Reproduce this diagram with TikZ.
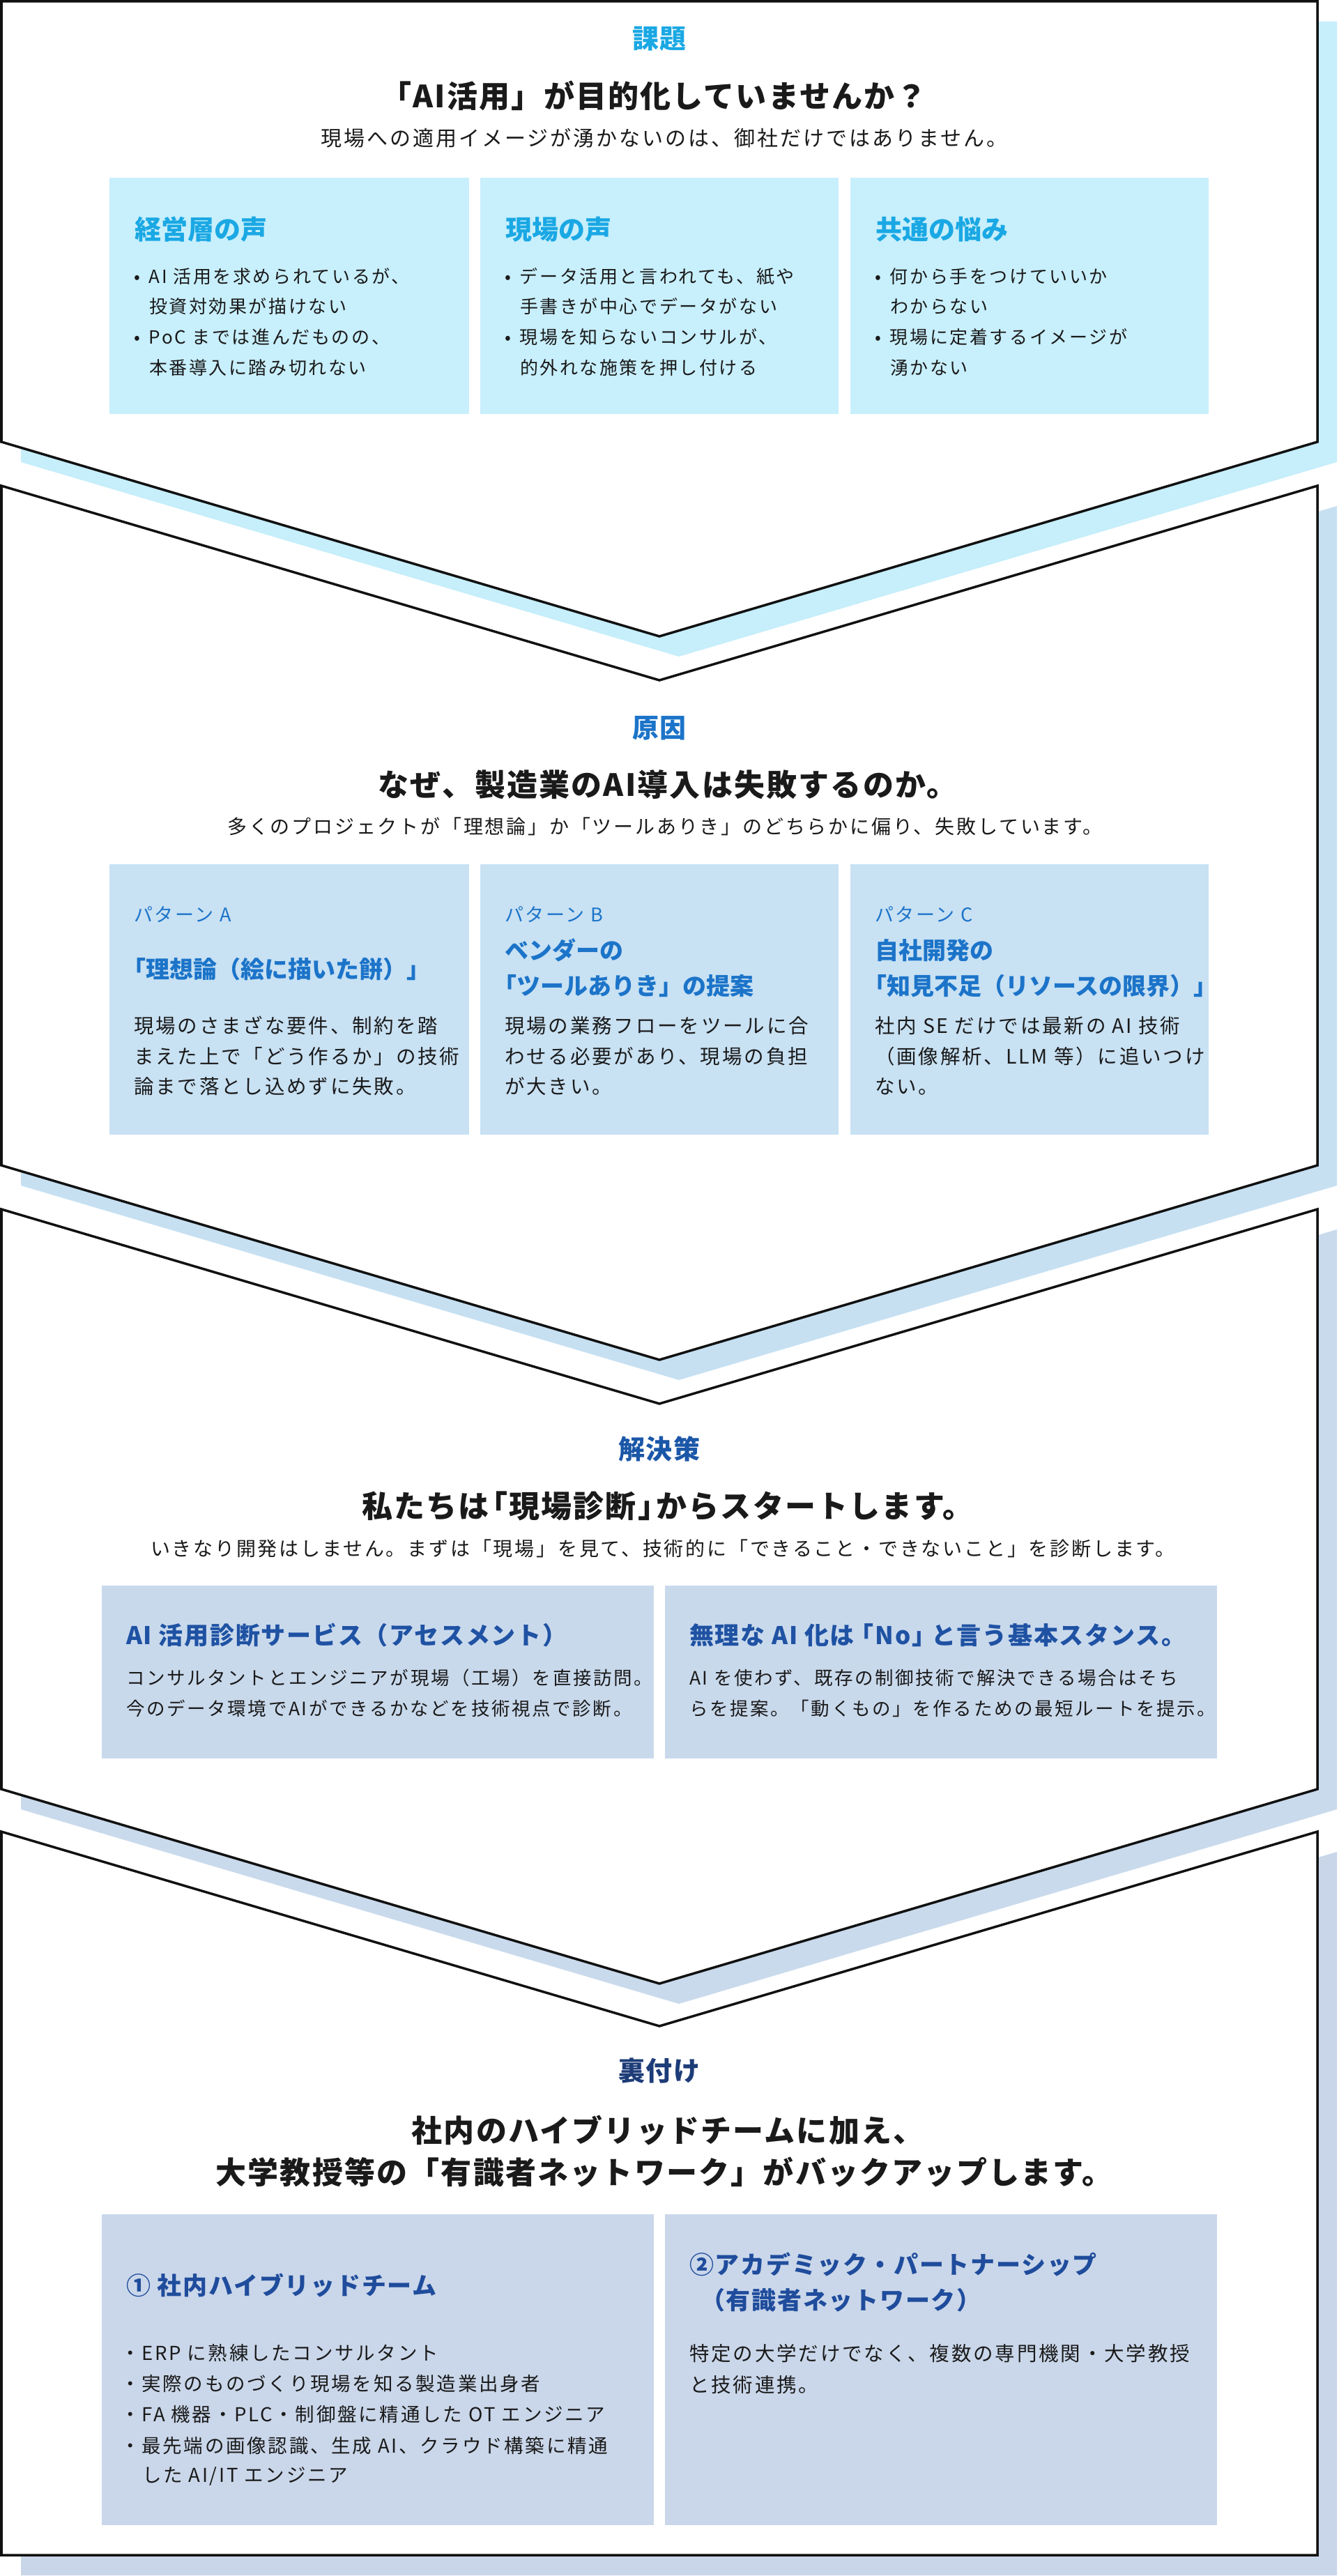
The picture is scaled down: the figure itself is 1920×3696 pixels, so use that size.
\documentclass[tikz,border=0pt]{standalone}
\usepackage{fontspec}
\setmainfont{Noto Sans CJK JP}
\newfontfamily\jpW{Noto Sans CJK JP}[LetterSpace=10]
\newfontfamily\jpM{Noto Sans CJK JP}[LetterSpace=5]
\newfontfamily\jpN{Noto Sans CJK JP}
\definecolor{ink}{HTML}{1A1A1A}
\definecolor{edge}{HTML}{111111}
\definecolor{shA}{HTML}{C6EEFB}
\definecolor{shB}{HTML}{C6E0F2}
\definecolor{shC}{HTML}{C9DAEC}
\definecolor{shD}{HTML}{C9D6E9}
\definecolor{cA}{HTML}{C8EFFC}
\definecolor{cB}{HTML}{C8E1F3}
\definecolor{cC}{HTML}{C9D9EC}
\definecolor{cD}{HTML}{CAD7EA}
\definecolor{labA}{HTML}{1AA8E4}
\definecolor{labB}{HTML}{1C74C9}
\definecolor{labC}{HTML}{1B57A8}
\definecolor{labD}{HTML}{1D3C78}
\definecolor{hdCc}{HTML}{1F52A3}
\definecolor{hdDc}{HTML}{1F4C9C}
\newcommand\bul{\makebox[28pt][l]{\makebox[22pt][c]{•}}}
\newcommand\obr{\kern-0.4em「}
\newcommand\cbr{」\kern-0.4em}
\tikzset{
  txt/.style={inner sep=0pt, outer sep=0pt, text=ink},
  lab/.style={txt, font=\jpM\bfseries\fontsize{38}{38}\selectfont, text height=33pt, text depth=5pt},
  ttl/.style={txt, font=\jpM\bfseries\fontsize{44}{44}\selectfont, text height=38.3pt, text depth=5.7pt},
  subt/.style={txt, font=\jpW\fontsize{28}{28}\selectfont, text height=24.4pt, text depth=3.6pt},
  hdA/.style={txt, anchor=west, text=labA, font=\jpN\bfseries\fontsize{38}{38}\selectfont, text height=33pt, text depth=5pt},
  hdB/.style={txt, anchor=west, text=labB, font=\jpN\bfseries\fontsize{34}{34}\selectfont, text height=29.6pt, text depth=4.4pt},
  hdC/.style={txt, anchor=west, font=\jpM\bfseries\fontsize{35}{35}\selectfont, text height=30.5pt, text depth=4.5pt},
  pat/.style={txt, anchor=west, text=labB, font=\jpW\fontsize{27}{27}\selectfont, text height=23.5pt, text depth=3.5pt},
  bodyA/.style={txt, anchor=west, font=\jpW\fontsize{26}{26}\selectfont, text height=22.6pt, text depth=3.4pt},
  bodyB/.style={txt, anchor=west, font=\jpW\fontsize{28.5}{28.5}\selectfont, text height=24.8pt, text depth=3.7pt},
  bodyC/.style={txt, anchor=west, font=\jpW\fontsize{26.5}{26.5}\selectfont, text height=23pt, text depth=3.5pt},
  bodyD/.style={txt, anchor=west, font=\jpW\fontsize{27.5}{27.5}\selectfont, text height=23.9pt, text depth=3.6pt},
  bodyE/.style={txt, anchor=west, font=\jpW\fontsize{28.5}{28.5}\selectfont, text height=24.8pt, text depth=3.7pt},
  panel/.style={draw=edge, line width=3.5pt, line join=miter, fill=white},
}
\begin{document}
\begin{tikzpicture}[x=1pt,y=-1pt]
\useasboundingbox (0,0) rectangle (1920,3696);
\fill[white] (0,0) rectangle (1920,3696);
% shadows
\fill[shA, shift={(28,29)}] (2,2) -- (1890,2) -- (1890,634) -- (946,913) -- (2,634) -- cycle;
\fill[shB, shift={(28,29)}] (2,697) -- (946,976) -- (1890,697) -- (1890,1672) -- (946,1951) -- (2,1672) -- cycle;
\fill[shC, shift={(28,29)}] (2,1735) -- (946,2014) -- (1890,1735) -- (1890,2567) -- (946,2846) -- (2,2567) -- cycle;
\fill[shD, shift={(28,29)}] (2,2628) -- (946,2907) -- (1890,2628) -- (1890,3666) -- (2,3666) -- cycle;
% panels
\draw[panel] (2,2) -- (1890,2) -- (1890,634) -- (946,913) -- (2,634) -- cycle;
\draw[panel] (2,697) -- (946,976) -- (1890,697) -- (1890,1672) -- (946,1951) -- (2,1672) -- cycle;
\draw[panel] (2,1735) -- (946,2014) -- (1890,1735) -- (1890,2567) -- (946,2846) -- (2,2567) -- cycle;
\draw[panel] (2,2628) -- (946,2907) -- (1890,2628) -- (1890,3666) -- (2,3666) -- cycle;

% ---------- Panel 1 ----------
\node[lab, text=labA] (l1) at (946,56) {課題};
\node[ttl] (t1) at (938,138) {「AI活用」が目的化していませんか？};
\node[subt, font=\jpW\fontsize{30}{30}\selectfont] (s1) at (953,199) {現場への適用イメージが湧かないのは、御社だけではありません。};
\fill[cA] (157,255) rectangle (673,594);
\fill[cA] (689,255) rectangle (1203,594);
\fill[cA] (1220,255) rectangle (1734,594);
\node[hdA] (h1a) at (193,329) {経営層の声};
\node[bodyA] (b1a1) at (186,397) {\bul AI 活用を求められているが、};
\node[bodyA] (b1a2) at (214,440) {投資対効果が描けない};
\node[bodyA] (b1a3) at (186,484) {\bul PoC までは進んだものの、};
\node[bodyA] (b1a4) at (214,528) {本番導入に踏み切れない};
\node[hdA] (h1b) at (725,329) {現場の声};
\node[bodyA] (b1b1) at (718,397) {\bul データ活用と言われても、紙や};
\node[bodyA] (b1b2) at (746,440) {手書きが中心でデータがない};
\node[bodyA] (b1b3) at (718,484) {\bul 現場を知らないコンサルが、};
\node[bodyA] (b1b4) at (746,528) {的外れな施策を押し付ける};
\node[hdA] (h1c) at (1256,329) {共通の悩み};
\node[bodyA] (b1c1) at (1249,397) {\bul 何から手をつけていいか};
\node[bodyA] (b1c2) at (1277,440) {わからない};
\node[bodyA] (b1c3) at (1249,484) {\bul 現場に定着するイメージが};
\node[bodyA] (b1c4) at (1277,528) {湧かない};

% ---------- Panel 2 ----------
\node[lab, text=labB] (l2) at (946,1044) {原因};
\node[ttl] (t2) at (958,1126) {なぜ、製造業のAI導入は失敗するのか。};
\node[subt] (s2) at (954,1186) {多くのプロジェクトが「理想論」か「ツールありき」のどちらかに偏り、失敗しています。};
\fill[cB] (157,1240) rectangle (673,1628);
\fill[cB] (689,1240) rectangle (1203,1628);
\fill[cB] (1220,1240) rectangle (1734,1628);
\node[pat] (p2a) at (192,1312) {パターン A};
\node[pat] (p2b) at (724,1312) {パターン B};
\node[pat] (p2c) at (1255,1312) {パターン C};
\node[hdB] (h2a) at (175,1391) {「理想論（絵に描いた餅）」};
\node[hdB] (h2b1) at (724,1364) {ベンダーの};
\node[hdB] (h2b2) at (707,1415) {「ツールありき」の提案};
\node[hdB] (h2c1) at (1255,1364) {自社開発の};
\node[hdB] (h2c2) at (1238,1415) {「知見不足（リソースの限界）」};
\node[bodyB] (b2a1) at (192,1472) {現場のさまざな要件、制約を踏};
\node[bodyB] (b2a2) at (192,1516) {まえた上で「どう作るか」の技術};
\node[bodyB] (b2a3) at (192,1559) {論まで落とし込めずに失敗。};
\node[bodyB] (b2b1) at (724,1472) {現場の業務フローをツールに合};
\node[bodyB] (b2b2) at (724,1516) {わせる必要があり、現場の負担};
\node[bodyB] (b2b3) at (724,1559) {が大きい。};
\node[bodyB] (b2c1) at (1255,1472) {社内 SE だけでは最新の AI 技術};
\node[bodyB] (b2c2) at (1255,1516) {（画像解析、LLM 等）に追いつけ};
\node[bodyB] (b2c3) at (1255,1559) {ない。};

% ---------- Panel 3 ----------
\node[lab, text=labC] (l3) at (946,2079) {解決策};
\node[ttl] (t3) at (958,2161) {私たちは\obr 現場診断\cbr からスタートします。};
\node[subt] (s3) at (951,2222) {いきなり開発はしません。まずは「現場」を見て、技術的に「できること・できないこと」を診断します。};
\fill[cC] (146,2275) rectangle (938,2523);
\fill[cC] (954,2275) rectangle (1746,2523);
\node[hdC, text=hdCc] (h3a) at (181,2346) {AI 活用診断サービス（アセスメント）};
\node[hdC, text=hdCc] (h3b) at (989,2346) {無理な AI 化は\kern-0.2em「No」\kern-0.2em と言う基本スタンス。};
\node[bodyC] (b3a1) at (181,2408) {コンサルタントとエンジニアが現場（工場）を直接訪問。};
\node[bodyC] (b3a2) at (181,2452) {今のデータ環境でAIができるかなどを技術視点で診断。};
\node[bodyC] (b3b1) at (989,2408) {AI を使わず、既存の制御技術で解決できる場合はそち};
\node[bodyC] (b3b2) at (989,2452) {らを提案。「動くもの」を作るための最短ルートを提示。};

% ---------- Panel 4 ----------
\node[lab, text=labD] (l4) at (946,2971) {裏付け};
\node[ttl] (t4a) at (958,3057) {社内のハイブリッドチームに加え、};
\node[ttl] (t4b) at (953,3117) {大学教授等の「有識者ネットワーク」がバックアップします。};
\fill[cD] (146,3177) rectangle (938,3623);
\fill[cD] (954,3177) rectangle (1746,3623);
\node[hdC, text=hdDc] (h4a) at (181,3279) {① 社内ハイブリッドチーム};
\node[bodyD] (b4a1) at (173,3376) {・ERP に熟練したコンサルタント};
\node[bodyD] (b4a2) at (173,3420) {・実際のものづくり現場を知る製造業出身者};
\node[bodyD] (b4a3) at (173,3464) {・FA 機器・PLC・制御盤に精通した OT エンジニア};
\node[bodyD] (b4a4) at (173,3509) {・最先端の画像認識、生成 AI、クラウド構築に精通};
\node[bodyD] (b4a5) at (204,3551) {した AI/IT エンジニア};
\node[hdC, text=hdDc] (h4b1) at (989,3249) {②アカデミック・パートナーシップ};
\node[hdC, text=hdDc] (h4b2) at (1005,3300) {（有識者ネットワーク）};
\node[bodyE] (b4b1) at (989,3377) {特定の大学だけでなく、複数の専門機関・大学教授};
\node[bodyE] (b4b2) at (989,3422) {と技術連携。};
\end{tikzpicture}
\end{document}
